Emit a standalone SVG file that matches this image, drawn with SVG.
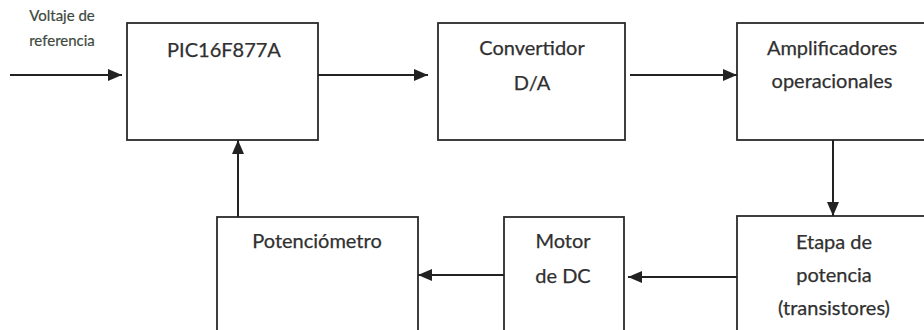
<svg xmlns="http://www.w3.org/2000/svg" width="924" height="330" viewBox="0 0 924 330">
<style>
.box{fill:#fff;stroke:#2a2a2a;stroke-width:1.8}
.t{font-family:Lato,"Liberation Sans",sans-serif;font-size:20px;fill:#303030;stroke:#303030;stroke-width:0.25;text-anchor:middle}
.s{font-family:Lato,"Liberation Sans",sans-serif;font-size:15px;fill:#3e4a3e;stroke:#3e4a3e;stroke-width:0.2;text-anchor:middle}
.c{stroke:#222;stroke-width:2;fill:none;marker-end:url(#ah)}
</style>
<defs>
<marker id="ah" viewBox="0 0 14 12" refX="14" refY="6" markerWidth="14" markerHeight="12" markerUnits="userSpaceOnUse" orient="auto">
<path d="M0,0 L14,6 L0,12 Z" fill="#222"/>
</marker>
</defs>
<rect width="924" height="330" fill="#fff"/>
<g id="input-label">
<text class="s" x="62" y="21">Voltaje de</text>
<text class="s" x="62" y="46">referencia</text>
</g>
<g id="pic">
<rect class="box" x="127" y="23" width="191" height="117"/>
<text class="t" x="224" y="57">PIC16F877A</text>
</g>
<g id="dac">
<rect class="box" x="438" y="23" width="187" height="117"/>
<text class="t" x="532" y="55">Convertidor</text>
<text class="t" x="532" y="90">D/A</text>
</g>
<g id="amp">
<rect class="box" x="737" y="23" width="192" height="117"/>
<text class="t" x="832" y="55">Amplificadores</text>
<text class="t" x="832" y="88">operacionales</text>
</g>
<g id="etapa">
<rect class="box" x="737" y="216" width="192" height="120"/>
<text class="t" x="834" y="249">Etapa de</text>
<text class="t" x="834" y="282">potencia</text>
<text class="t" x="834" y="315">(transistores)</text>
</g>
<g id="motor">
<rect class="box" x="504" y="217" width="120" height="119"/>
<text class="t" x="563" y="248">Motor</text>
<text class="t" x="563" y="283">de DC</text>
</g>
<g id="pot">
<rect class="box" x="217" y="217" width="201" height="119"/>
<text class="t" x="317" y="248">Potenciómetro</text>
</g>
<g id="connectors">
<path class="c" d="M10,75 H122"/>
<path class="c" d="M318,75 H428"/>
<path class="c" d="M630,75 H737"/>
<path class="c" d="M833,140 V216"/>
<path class="c" d="M737,277 H628"/>
<path class="c" d="M504,275 H418"/>
<path class="c" d="M238,217 V140"/>
</g>
</svg>
